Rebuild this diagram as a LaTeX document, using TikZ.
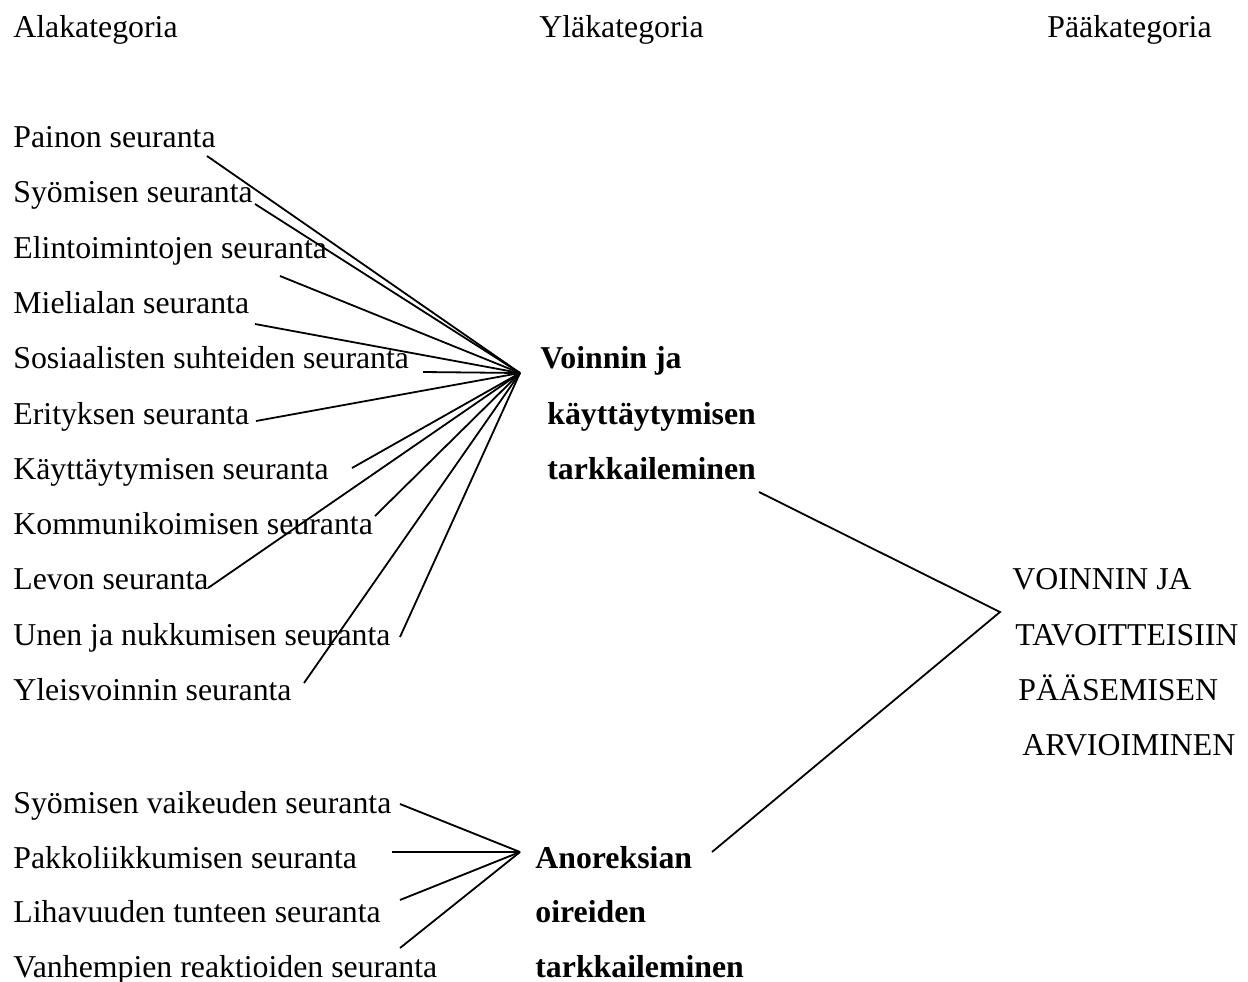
\documentclass[tikz,border=0pt]{standalone}
\usepackage{fontspec}
\setmainfont{Liberation Serif}
\begin{document}
\begin{tikzpicture}[x=0.5pt,y=-0.5pt,
  lbl/.style={anchor=base west,inner sep=0pt,font=\fontsize{15.9}{19}\selectfont},
  blbl/.style={lbl,font=\fontsize{15.9}{19}\selectfont\bfseries},
  conn/.style={draw=black,line width=0.9pt}]
\useasboundingbox (0,0) rectangle (1248,981);
% headers
\node[lbl] (hA) at (13,37) {Alakategoria};
\node[lbl] (hY) at (539,37) {Yläkategoria};
\node[lbl] (hP) at (1047,37) {Pääkategoria};
% left group 1
\node[lbl] (n1) at (13,147) {Painon seuranta};
\node[lbl] (n2) at (13,202) {Syömisen seuranta};
\node[lbl] (n3) at (13,258) {Elintoimintojen seuranta};
\node[lbl] (n4) at (13,313) {Mielialan seuranta};
\node[lbl] (n5) at (13,368) {Sosiaalisten suhteiden seuranta};
\node[lbl] (n6) at (13,424) {Erityksen seuranta};
\node[lbl] (n7) at (13,479) {Käyttäytymisen seuranta};
\node[lbl] (n8) at (13,534) {Kommunikoimisen seuranta};
\node[lbl] (n9) at (13,589) {Levon seuranta};
\node[lbl] (n10) at (13,645) {Unen ja nukkumisen seuranta};
\node[lbl] (n11) at (13,700) {Yleisvoinnin seuranta};
% left group 2
\node[lbl] (m1) at (13,813) {Syömisen vaikeuden seuranta};
\node[lbl] (m2) at (13,868) {Pakkoliikkumisen seuranta};
\node[lbl] (m3) at (13,922) {Lihavuuden tunteen seuranta};
\node[lbl] (m4) at (13,977) {Vanhempien reaktioiden seuranta};
% middle
\node[blbl] (v1) at (540,368) {Voinnin ja};
\node[blbl] (v2) at (547,424) {käyttäytymisen};
\node[blbl] (v3) at (547,479) {tarkkaileminen};
\node[blbl] (o1) at (535,868) {Anoreksian};
\node[blbl] (o2) at (535,922) {oireiden};
\node[blbl] (o3) at (535,977) {tarkkaileminen};
% right
\node[lbl] (p1) at (1012,589) {VOINNIN JA};
\node[lbl] (p2) at (1015,645) {TAVOITTEISIIN};
\node[lbl] (p3) at (1018,700) {PÄÄSEMISEN};
\node[lbl] (p4) at (1022,755) {ARVIOIMINEN};
% connector ends
\coordinate (H1) at (520,373);
\coordinate (a1) at (207,156);
\coordinate (a2) at (255,204);
\coordinate (a3) at (280,276);
\coordinate (a4) at (255,324);
\coordinate (a5) at (423,372);
\coordinate (a6) at (256,421);
\coordinate (a7) at (352,468);
\coordinate (a8) at (375,516);
\coordinate (a9) at (208,588);
\coordinate (a10) at (400,637);
\coordinate (a11) at (304,683);
\coordinate (H2) at (520,852);
\coordinate (b1) at (400,804);
\coordinate (b2) at (392,852);
\coordinate (b3) at (400,900);
\coordinate (b4) at (400,948);
\coordinate (R) at (1000,612);
\coordinate (r1) at (759,492);
\coordinate (r2) at (712,852);
\foreach \i in {1,...,11} {\draw[conn] (a\i) -- (H1);}
\foreach \i in {1,...,4} {\draw[conn] (b\i) -- (H2);}
\draw[conn] (r1) -- (R) -- (r2);
\end{tikzpicture}
\end{document}
